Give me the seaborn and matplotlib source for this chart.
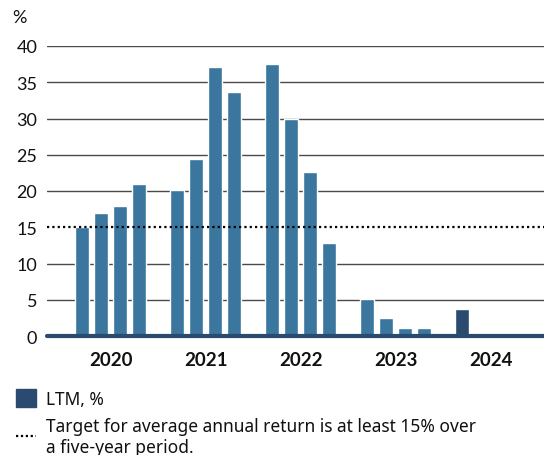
import pandas as pd
import seaborn as sns
import matplotlib.pyplot as plt
from matplotlib.patches import Patch
from matplotlib.lines import Line2D

# LTM return per quarter
years = ["2020", "2021", "2022", "2023", "2024"]
quarters = ["Q1", "Q2", "Q3", "Q4"]
ltm_2020 = [15.0, 17.0, 17.9, 21.0]
ltm_2021 = [20.1, 24.4, 37.1, 33.7]
ltm_2022 = [37.5, 30.0, 22.6, 12.8]
ltm_2023 = [5.1, 2.5, 1.1, 1.1]
ltm_2024 = [3.7]
target = 15
y_ticks = [0, 5, 10, 15, 20, 25, 30, 35, 40]

bar_color = "#3a769e"
latest_color = "#2b4a6f"
grid_color = "#4a4a4a"

# build long table; each year takes 5 slots (4 quarters + a gap)
rows = []
for yi, vals in enumerate([ltm_2020, ltm_2021, ltm_2022, ltm_2023, ltm_2024]):
    for qi, v in enumerate(vals):
        rows.append({"year": years[yi], "quarter": quarters[qi],
                     "pos": yi * 5 + qi, "ltm": v, "kind": "hist"})
df = pd.DataFrame(rows)
df.loc[df.index[-1], "kind"] = "latest"

sns.set_theme(style="white")
plt.rcParams["font.family"] = ["Lato", "DejaVu Sans"]

fig = plt.figure(figsize=(5.44, 4.56), dpi=100)
ax = fig.add_axes([47 / 544, (456 - 337) / 456, (544 - 47) / 544, 290 / 456])

# gridlines (15 replaced by target line)
for t in y_ticks[1:]:
    if t != target:
        ax.axhline(t, color=grid_color, lw=1.0, zorder=0)

sns.barplot(data=df, x="pos", y="ltm", hue="kind", native_scale=True,
            palette={"hist": bar_color, "latest": latest_color},
            width=0.76, dodge=False, legend=False, saturation=1,
            ax=ax, zorder=2)

ax.axhline(target, color="black", lw=1.6, ls=(0, (1, 1.4)), zorder=3)
ax.axhline(0, color=latest_color, lw=3, zorder=4, clip_on=False)

ax.set_xlim(-1.85, 24.3)
ax.set_ylim(0, 40)
ax.set_yticks(y_ticks)
ax.set_yticklabels([str(t) for t in y_ticks], fontsize=13, color="#111111")
ax.set_xticks([i * 5 + 1.5 for i in range(len(years))])
ax.set_xticklabels(years, fontsize=13.5, fontweight="bold", color="#111111")
ax.tick_params(axis="y", length=0, pad=7)
ax.tick_params(axis="x", length=0, pad=11)
ax.set_xlabel("")
ax.set_ylabel("")
for s in ax.spines.values():
    s.set_visible(False)

fig.text(12 / 544, 1 - 18 / 456, "%", fontsize=13, va="center", ha="left", color="#111111")

handles = [Patch(color=latest_color),
           Line2D([0], [0], color="black", lw=1.6, ls=(0, (1, 1.2)))]
labels = ["LTM, %", "Target for average annual return is at least 15% over\na five-year period."]
fig.legend(handles, labels, loc="upper left", bbox_to_anchor=(0.0, 0.179),
           frameon=False, handlelength=1.2, handleheight=1.2, handletextpad=0.55,
           labelspacing=0.55, prop={"family": ["Noto Sans", "DejaVu Sans"], "size": 12.5},
           labelcolor="#111111")

fig.savefig("out.png", dpi=100)
